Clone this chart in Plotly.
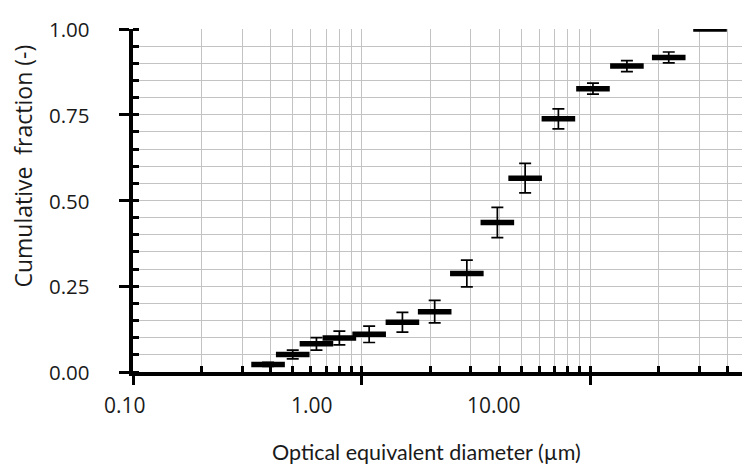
import plotly.graph_objects as go

# ---- data ----
diameter_um = [0.39, 0.50, 0.635, 0.80, 1.08, 1.51, 2.09, 2.89, 3.93, 5.2, 7.27, 10.3, 14.5, 22.1, 33.5]
cum_fraction = [0.022, 0.051, 0.082, 0.099, 0.110, 0.145, 0.176, 0.287, 0.436, 0.565, 0.738, 0.826, 0.892, 0.917, 1.0]
err_fraction = [0.006, 0.013, 0.018, 0.020, 0.024, 0.029, 0.033, 0.039, 0.044, 0.043, 0.029, 0.016, 0.016, 0.016, 0.0]

x_major = [0.1, 1, 10]
x_minor = [0.2, 0.3, 0.4, 0.5, 0.6, 0.7, 0.8, 0.9,
           2, 3, 4, 5, 6, 7, 8, 9, 20, 30, 40]
x_tick_labels = ["0.10", "1.00", "10.00"]
x_label_pos = [-0.013, 0.294, 0.593]   # label centres as they sit in the reference (paper fraction)
y_major = [0, 0.25, 0.5, 0.75, 1.0]
y_tick_labels = ["0.00", "0.25", "0.50", "0.75", "1.00"]

NUM_FONT = "Open Sans"
X_TITLE_FONT = "Lato"
Y_TITLE_FONT = "Open Sans"
TXT = "#1a1a1a"
GRID = "#c3c3c3"

fig = go.Figure()
fig.add_trace(go.Scatter(
    x=diameter_um, y=cum_fraction, mode="markers",
    marker=dict(symbol="line-ew", size=24, color="black",
                line=dict(width=5.5, color="black")),
    error_y=dict(type="data", array=err_fraction, visible=True,
                 color="black", thickness=1.7, width=6),
    showlegend=False, hoverinfo="x+y",
))

fig.update_layout(
    width=742, height=468,
    margin=dict(l=133, r=0, t=28.5, b=96),
    paper_bgcolor="white", plot_bgcolor="white",
    font=dict(family=NUM_FONT, size=21, color=TXT),
    xaxis=dict(
        type="log", range=[-1, 1.665],
        tickmode="array", tickvals=x_major, showticklabels=False,
        ticks="outside", ticklen=9, tickwidth=3, tickcolor="black",
        showline=True, linewidth=4, linecolor="black",
        showgrid=True, gridcolor=GRID, gridwidth=1.3, zeroline=False,
        minor=dict(tickmode="array", tickvals=x_minor, ticks="inside",
                   ticklen=6, tickwidth=3, tickcolor="black",
                   showgrid=True, gridcolor=GRID, gridwidth=1.3),
    ),
    yaxis=dict(
        range=[0, 1],
        tickmode="array", tickvals=y_major, showticklabels=False,
        ticks="outside", ticklen=10, tickwidth=3, tickcolor="black",
        showline=True, linewidth=3.5, linecolor="black",
        showgrid=True, gridcolor=GRID, gridwidth=1.3, zeroline=False,
        minor=dict(dtick=0.05, tick0=0, ticks="inside", ticklen=6,
                   tickwidth=3, tickcolor="black",
                   showgrid=True, gridcolor=GRID, gridwidth=1.3),
    ),
    # overlay axes only to draw the inside half of the crossing major ticks
    xaxis2=dict(type="log", range=[-1, 1.665], overlaying="x", side="bottom",
                tickmode="array", tickvals=x_major, showticklabels=False,
                ticks="inside", ticklen=6, tickwidth=3, tickcolor="black",
                showgrid=False, showline=False, zeroline=False),
    yaxis2=dict(range=[0, 1], overlaying="y", side="left",
                tickmode="array", tickvals=y_major, showticklabels=False,
                ticks="inside", ticklen=6, tickwidth=3, tickcolor="black",
                showgrid=False, showline=False, zeroline=False),
)

# invisible trace so the overlay axes get drawn
fig.add_trace(go.Scatter(x=[diameter_um[0]], y=[cum_fraction[0]], xaxis="x2", yaxis="y2",
                         mode="markers", marker=dict(opacity=0), showlegend=False,
                         hoverinfo="skip"))

for lab, px in zip(x_tick_labels, x_label_pos):
    fig.add_annotation(text=lab, xref="paper", yref="paper", x=px, y=-0.095,
                       showarrow=False, xanchor="center", yanchor="middle",
                       font=dict(family=NUM_FONT, size=21, color=TXT))

for lab, yv in zip(y_tick_labels, y_major):
    fig.add_annotation(text=lab, xref="paper", yref="y", x=-0.068, y=yv,
                       showarrow=False, xanchor="right", yanchor="middle",
                       font=dict(family=NUM_FONT, size=20.5, color=TXT))

fig.add_annotation(text="Optical equivalent diameter (µm)", xref="paper", yref="paper",
                   x=0.482, y=-0.232, showarrow=False, xanchor="center", yanchor="middle",
                   font=dict(family=X_TITLE_FONT, size=21.5, color=TXT))
fig.add_annotation(text="Cumulative\u00a0 fraction (-)", xref="paper", yref="paper",
                   x=-0.18, y=0.6, textangle=-90, showarrow=False,
                   xanchor="center", yanchor="middle",
                   font=dict(family=Y_TITLE_FONT, size=23, color=TXT))

fig.write_html("out.html")
